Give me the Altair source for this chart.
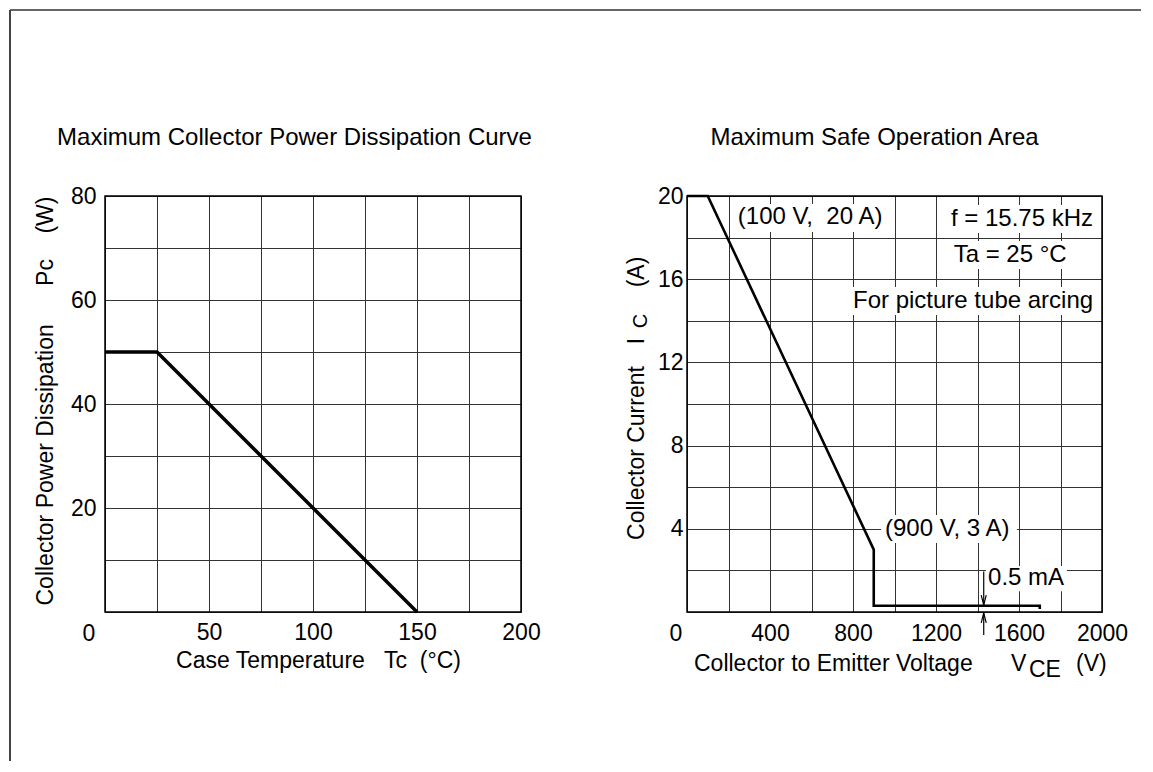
import altair as alt
import pandas as pd

FONT = "Liberation Sans"

# ---------------- data ----------------
# Left: Maximum collector power dissipation curve
tc_values = [0, 25, 150]          # case temperature (°C)
pc_values = [50, 50, 0]           # collector power dissipation (W)

# Right: Maximum safe operation area
vce_values = [0, 100, 900, 900, 1700, 1700]     # V
ic_values = [20, 20, 3, 0.3, 0.3, 0.15]         # A

left_x_grid = list(range(0, 201, 25))
left_y_grid = list(range(0, 81, 10))
right_x_grid = list(range(0, 2001, 200))
right_y_grid = list(range(0, 21, 2))

annot_text = ["(100 V,\u00a0\u00a020 A)", "f = 15.75 kHz", "Ta = 25 °C",
              "For picture tube arcing", "(900 V, 3 A)", "0.5 mA"]
annot_x = [245, 1272, 1285, 800, 954, 1451]
annot_y = [19.0, 18.9, 17.16, 14.95, 3.99, 1.63]
box_x1 = [226, 1253, 1253, 781, 935, 1441]
box_x2 = [964, 1990, 1860, 1981, 1590, 1831]
box_y1 = [18.27, 18.22, 16.49, 14.28, 3.32, 1.0]
box_y2 = [19.61, 19.57, 17.84, 15.63, 4.66, 2.21]

arrow_x = [1430, 1430]
arrow_from = [1.95, -1.1]
arrow_tip = [0.33, -0.04]

# ---------------- layout ----------------
W1, W2, H = 416, 415, 416
TICK_FS = 23
TITLE_FS = 24


def make_axis(values, test, pad):
    return alt.Axis(values=values, grid=True, gridColor="#333333", gridWidth=1,
                    gridOpacity=1, domain=False, ticks=False, format="d",
                    labelExpr=f"({test}) ? datum.label : ''",
                    labelFont=FONT, labelFontSize=TICK_FS, labelColor="black",
                    labelPadding=pad, labelOverlap=False, labelFlush=False,
                    labelBound=False, title=None)


def label(text, x, y, size=TICK_FS, align="center", angle=None):
    kw = dict(align=align, baseline="middle", fontSize=size, font=FONT, color="black")
    if angle:
        kw["angle"] = angle
    return alt.Chart(pd.DataFrame({"t": [text]})).mark_text(**kw).encode(
        x=alt.value(x), y=alt.value(y), text="t:N")


def border(w, h):
    return alt.Chart(pd.DataFrame({"a": [0]})).mark_rect(
        filled=False, stroke="black", strokeWidth=1.5).encode(
        x=alt.value(0), x2=alt.value(w), y=alt.value(0), y2=alt.value(h))


# ---------------- left chart ----------------
LX = alt.X("x:Q", scale=alt.Scale(domain=[0, 200], nice=False),
           axis=make_axis(left_x_grid, "datum.value % 50 == 0 && datum.value > 0", 9))
LY = alt.Y("y:Q", scale=alt.Scale(domain=[0, 80], nice=False),
           axis=make_axis(left_y_grid, "datum.value % 20 == 0 && datum.value > 0", 9))

df_left = pd.DataFrame({"x": tc_values, "y": pc_values, "i": range(len(tc_values))})
left_line = alt.Chart(df_left).mark_line(color="black", strokeWidth=3.5).encode(
    x=LX, y=LY, order="i:O")

frame_top = alt.Chart(pd.DataFrame({"a": [0]})).mark_rule(color="#666666", strokeWidth=2).encode(
    x=alt.value(-95), x2=alt.value(1036), y=alt.value(-186))
frame_left = alt.Chart(pd.DataFrame({"a": [0]})).mark_rule(color="#444444", strokeWidth=2).encode(
    x=alt.value(-95), y=alt.value(-186), y2=alt.value(565))

left = alt.layer(
    left_line,
    border(W1, H),
    label("Maximum Collector Power Dissipation Curve", 189.5, -58, TITLE_FS),
    label("Collector Power Dissipation\u00a0\u00a0\u00a0\u00a0\u00a0\u00a0Pc\u00a0\u00a0\u00a0\u00a0(W)",
          -59, 205, TICK_FS, angle=270),
    label("Case Temperature\u00a0\u00a0\u00a0Tc\u00a0\u00a0(°C)", 213.5, 465, TICK_FS),
    label("0", -16, 438, TICK_FS),
    frame_top, frame_left,
).properties(width=W1, height=H)

# ---------------- right chart ----------------
RX = alt.X("x:Q", scale=alt.Scale(domain=[0, 2000], nice=False),
           axis=make_axis(right_x_grid, "datum.value % 400 == 0 && datum.value > 0", 10))
RY = alt.Y("y:Q", scale=alt.Scale(domain=[0, 20], nice=False),
           axis=make_axis(right_y_grid, "datum.value % 4 == 0 && datum.value > 0", 4))

df_boxes = pd.DataFrame({"x": box_x1, "x2": box_x2, "y": box_y1, "y2": box_y2})
boxes = alt.Chart(df_boxes).mark_rect(color="white").encode(
    x=RX, x2="x2:Q", y=RY, y2="y2:Q")

df_right = pd.DataFrame({"x": vce_values, "y": ic_values, "i": range(len(vce_values))})
right_line = alt.Chart(df_right).mark_line(color="black", strokeWidth=2.6).encode(
    x=RX, y=RY, order="i:O")

df_annot = pd.DataFrame({"x": annot_x, "y": annot_y, "t": annot_text})
annots = alt.Chart(df_annot).mark_text(align="left", baseline="middle", font=FONT,
                                       fontSize=TITLE_FS, color="black").encode(
    x=RX, y=RY, text="t:N")

df_arrow = pd.DataFrame({"x": arrow_x, "y": arrow_from, "y2": arrow_tip})
arrow_rules = alt.Chart(df_arrow).mark_rule(color="black", strokeWidth=1.2).encode(
    x=RX, y=RY, y2="y2:Q")
arrow_down = alt.Chart(pd.DataFrame({"x": [arrow_x[0]], "y": [arrow_tip[0]]})).mark_point(
    shape="M -0.25 -1 L 0 0 L 0.25 -1", filled=False, stroke="black", strokeWidth=1.2,
    size=400, opacity=1).encode(x=RX, y=RY)
arrow_up = alt.Chart(pd.DataFrame({"x": [arrow_x[1]], "y": [arrow_tip[1]]})).mark_point(
    shape="M -0.25 1 L 0 0 L 0.25 1", filled=False, stroke="black", strokeWidth=1.2,
    size=400, opacity=1).encode(x=RX, y=RY)

right = alt.layer(
    boxes, right_line, arrow_rules, arrow_down, arrow_up, annots,
    border(W2, H),
    label("Maximum Safe Operation Area", 187.5, -58, TITLE_FS),
    label("Collector to Emitter Voltage", 7, 468, TICK_FS, align="left"),
    label("V", 324, 468, TICK_FS, align="left"),
    label("CE", 342, 474, TICK_FS, align="left"),
    label("(V)", 389, 468, TICK_FS, align="left"),
    label("Collector Current", -50, 257, TICK_FS, angle=270),
    label("I", -50, 145, TICK_FS, angle=270),
    label("C", -46, 125, 20, angle=270),
    label("(A)", -50, 76, TICK_FS, angle=270),
    label("0", -11, 438, TICK_FS),
).properties(width=W2, height=H)

chart = alt.hconcat(left, right, spacing=166, bounds="flush").properties(
    padding=0
).configure_view(strokeWidth=0).configure(font=FONT)

chart.save("out.html", embed_options={"renderer": "svg", "actions": False})
